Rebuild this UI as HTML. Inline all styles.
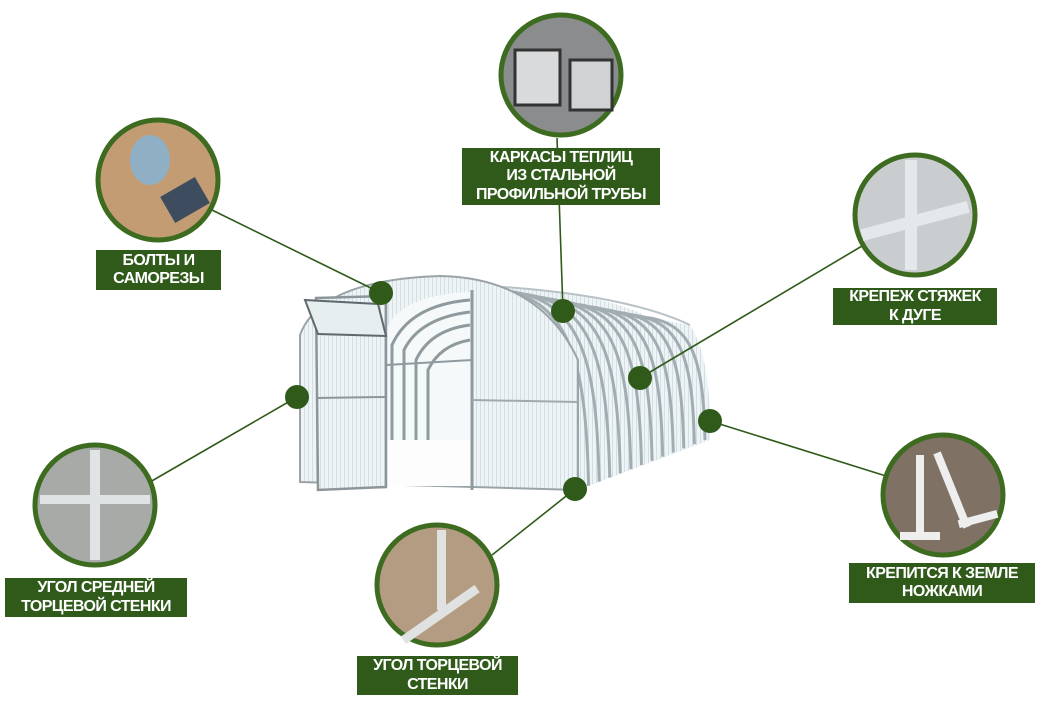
<!DOCTYPE html>
<html><head><meta charset="utf-8"><style>
body{margin:0;background:#fff;width:1047px;height:703px;overflow:hidden;position:relative;font-family:"Liberation Sans",Arial,sans-serif}
.lb{position:absolute;background:#2f5a1a;color:#fff;font-weight:bold;font-size:16px;line-height:18.5px;text-align:center;display:flex;align-items:center;justify-content:center;letter-spacing:-0.6px}
svg{position:absolute;left:0;top:0}
</style></head><body>
<svg width="1047" height="703" viewBox="0 0 1047 703">
<defs>
<pattern id="st" width="4" height="10" patternUnits="userSpaceOnUse"><rect width="4" height="10" fill="#eef4f6"/><rect width="1" height="10" fill="#d4dfe3"/></pattern>
</defs>
<path d="M470,285 Q600,290 650,318 L690,325 Q712,360 710,440 L578,490 Z" fill="url(#st)"/>
<path d="M470,285 Q620,292 690,325" fill="none" stroke="#b8c2c6" stroke-width="2"/>
<g id="ribs" fill="none" stroke="#a2adb2" stroke-width="3"></g>
<path d="M300,482 L300,335 Q320,280 440,276 Q540,278 578,360 L578,490 Z" fill="url(#st)" stroke="#9aa4a8" stroke-width="2"/>
<path d="M386,485 L386,330 Q400,295 470,292 L472,485 Z" fill="#f6f9fa"/>
<g fill="none" stroke="#8f9a9e" stroke-width="3">
<path d="M392,440 L392,345 Q410,305 470,300"/>
<path d="M404,445 L404,350 Q420,318 470,312"/>
<path d="M416,448 L416,360 Q430,330 470,325"/>
<path d="M428,450 L428,370 Q440,345 470,340"/>
<path d="M386,365 L472,360" stroke-width="2"/>
</g>
<rect x="386" y="440" width="86" height="46" fill="#fdfdfd"/>
<line x1="472" y1="290" x2="472" y2="490" stroke="#8f9a9e" stroke-width="3"/>
<line x1="472" y1="400" x2="578" y2="402" stroke="#a0aaae" stroke-width="2"/>
<path d="M316,298 L386,296 L386,487 L318,490 Z" fill="url(#st)" stroke="#8c969a" stroke-width="2.5"/>
<line x1="316" y1="398" x2="386" y2="397" stroke="#8c969a" stroke-width="2"/>
<path d="M305,300 L378,304 L386,336 L318,334 Z" fill="#e6eef0" stroke="#5f686c" stroke-width="2"/>
<g stroke="#2f5a1a" stroke-width="1.6">
<line x1="381" y1="293" x2="212" y2="210"/>
<line x1="563" y1="311" x2="557" y2="138"/>
<line x1="640" y1="378" x2="862" y2="246"/>
<line x1="297" y1="397" x2="150" y2="482"/>
<line x1="710" y1="421" x2="886" y2="476"/>
<line x1="575" y1="489" x2="492" y2="555"/>
</g>
<g fill="#2f5a1a">
<circle cx="381" cy="293" r="12"/><circle cx="563" cy="311" r="12"/><circle cx="640" cy="378" r="12"/>
<circle cx="297" cy="397" r="12"/><circle cx="710" cy="421" r="12"/><circle cx="575" cy="489" r="12"/>
</g>
<g stroke="#3d6b1f" stroke-width="5">
<circle cx="561" cy="75" r="60" fill="#8a8c8e"/>
<circle cx="158" cy="180" r="60" fill="#c49c74"/>
<circle cx="915" cy="215" r="60" fill="#c9cdd0"/>
<circle cx="95" cy="505" r="60" fill="#a8aaa8"/>
<circle cx="437" cy="585" r="60" fill="#b49c82"/>
<circle cx="943" cy="495" r="60" fill="#7f7265"/>
</g>
<g>
<rect x="515" y="50" width="45" height="55" fill="#d8dadc" stroke="#333" stroke-width="3"/>
<rect x="570" y="60" width="42" height="50" fill="#d0d2d4" stroke="#333" stroke-width="3"/>
<ellipse cx="150" cy="160" rx="20" ry="25" fill="#8fb0c4"/>
<rect x="165" y="185" width="40" height="30" fill="#3d4c5e" transform="rotate(-30 185 200)"/>
<rect x="905" y="160" width="12" height="110" fill="#e4e8ea"/>
<rect x="860" y="215" width="110" height="12" fill="#e4e8ea" transform="rotate(-15 915 221)"/>
<rect x="90" y="450" width="10" height="110" fill="#dfe3e4"/>
<rect x="40" y="495" width="110" height="9" fill="#dfe3e4"/>
<rect x="395" y="610" width="90" height="9" fill="#e0e2e2" transform="rotate(-35 440 614)"/>
<rect x="437" y="530" width="9" height="80" fill="#e0e2e2"/>
<rect x="916" y="455" width="8" height="80" fill="#eee"/><rect x="900" y="532" width="40" height="8" fill="#eee"/>
<rect x="948" y="450" width="8" height="80" fill="#eee" transform="rotate(-22 952 490)"/><rect x="958" y="515" width="40" height="8" fill="#eee" transform="rotate(-15 978 519)"/>
</g>
</svg>
<div class="lb" style="left:462px;top:148px;width:198px;height:57px">КАРКАСЫ ТЕПЛИЦ<br>ИЗ СТАЛЬНОЙ<br>ПРОФИЛЬНОЙ ТРУБЫ</div>
<div class="lb" style="left:96px;top:250px;width:125px;height:40px">БОЛТЫ И<br>САМОРЕЗЫ</div>
<div class="lb" style="left:833px;top:288px;width:164px;height:37px">КРЕПЕЖ СТЯЖЕК<br>К ДУГЕ</div>
<div class="lb" style="left:5px;top:578px;width:182px;height:39px">УГОЛ СРЕДНЕЙ<br>ТОРЦЕВОЙ СТЕНКИ</div>
<div class="lb" style="left:357px;top:656px;width:161px;height:39px">УГОЛ ТОРЦЕВОЙ<br>СТЕНКИ</div>
<div class="lb" style="left:849px;top:563px;width:186px;height:40px">КРЕПИТСЯ К ЗЕМЛЕ<br>НОЖКАМИ</div>
<script>
var g=document.getElementById('ribs'),s='';
for(var i=0;i<=12;i++){var t=i/12,bx=578+127*t,by=490-50*t,k=1-0.4*t;
function p(x,y){return (bx+x*k).toFixed(1)+','+(by+y*k).toFixed(1)}
s+='<path d="M'+p(-108,-205)+' C'+p(-18,-200)+' '+p(-3,-130)+' '+p(0,0)+'"/>';}
g.innerHTML=s;
</script>
</body></html>
